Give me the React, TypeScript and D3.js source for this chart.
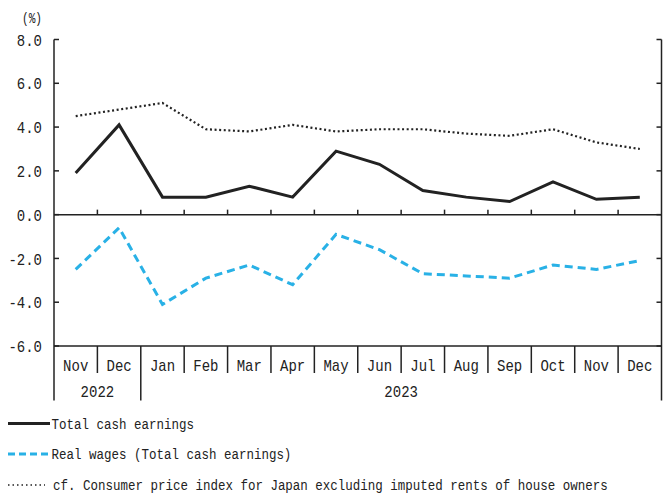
import React from "react";
import * as d3 from "d3";

const months = ["Nov", "Dec", "Jan", "Feb", "Mar", "Apr", "May", "Jun", "Jul", "Aug", "Sep", "Oct", "Nov", "Dec"];
const years = [
  { label: "2022", from: 0, to: 1 },
  { label: "2023", from: 2, to: 13 },
];
const totalCash = [1.9, 4.1, 0.8, 0.8, 1.3, 0.8, 2.9, 2.3, 1.1, 0.8, 0.6, 1.5, 0.7, 0.8];
const realWages = [-2.5, -0.6, -4.1, -2.9, -2.3, -3.2, -0.9, -1.6, -2.7, -2.8, -2.9, -2.3, -2.5, -2.1];
const cpi = [4.5, 4.8, 5.1, 3.9, 3.8, 4.1, 3.8, 3.9, 3.9, 3.7, 3.6, 3.9, 3.3, 3.0];
const yTicks = [8, 6, 4, 2, 0, -2, -4, -6];
const legendLabels = [
  "Total cash earnings",
  "Real wages (Total cash earnings)",
  "cf. Consumer price index for Japan excluding imputed rents of house owners",
];

const W = 664;
const H = 495;
const FONT = "'Liberation Mono', 'DejaVu Sans Mono', monospace";
const AX = "#222";

export default function App() {
  const left = 54;
  const right = 661.5;
  const x = d3.scaleBand<number>().domain(d3.range(months.length)).range([left, right]).padding(0);
  const y = d3.scaleLinear().domain([-6, 8]).range([346, 39.5]);
  const cx = (i: number) => (x(i) as number) + x.bandwidth() / 2;
  const line = d3
    .line<number>()
    .x((_, i) => cx(i))
    .y((d) => y(d));
  const y0 = y(0);
  const yBot = y(-6);
  const yTop = y(8);
  const boundaries = d3.range(1, months.length).map((i) => x(i) as number);
  const legendY = [423.5, 454, 485];

  return (
    <svg
      width={W}
      height={H}
      style={{ position: "absolute", left: 0, top: 0, background: "#fff", display: "block" }}
      fontFamily={FONT}
    >
      <rect x={0} y={0} width={W} height={H} fill="#fff" />
      {/* unit label */}
      <text x={42} y={18} dy="0.36em" fontSize={15} textAnchor="end" textLength={20} lengthAdjust="spacingAndGlyphs" fill="#222">
        (%)
      </text>
      {/* y tick labels */}
      {yTicks.map((t) => {
        const s = t.toFixed(1);
        return (
          <text
            key={t}
            x={42}
            y={y(t)}
            dy="0.36em"
            fontSize={17}
            textAnchor="end"
            textLength={s.length * 8.4}
            lengthAdjust="spacingAndGlyphs"
            fill="#222"
          >
            {s}
          </text>
        );
      })}
      {/* left axis */}
      <line x1={left} x2={left} y1={yTop} y2={400.5} stroke={AX} strokeWidth={1.5} />
      {/* right axis */}
      <line x1={right} x2={right} y1={yTop} y2={400.5} stroke={AX} strokeWidth={1.5} />
      {/* ticks */}
      {yTicks.map((t) => (
        <g key={"t" + t}>
          <line x1={left} x2={left + 5} y1={y(t)} y2={y(t)} stroke={AX} strokeWidth={1.5} />
          <line x1={right - 5} x2={right} y1={y(t)} y2={y(t)} stroke={AX} strokeWidth={1.5} />
        </g>
      ))}
      {/* zero line */}
      <line x1={left} x2={right} y1={y0} y2={y0} stroke={AX} strokeWidth={1.5} />
      {boundaries.map((b, i) => (
        <line key={"zb" + i} x1={b} x2={b} y1={y0} y2={y0 - 5} stroke={AX} strokeWidth={1.5} />
      ))}
      {/* bottom line */}
      <line x1={left} x2={right} y1={yBot} y2={yBot} stroke={AX} strokeWidth={1.5} />
      {boundaries.map((b, i) => (
        <line
          key={"bb" + i}
          x1={b}
          x2={b}
          y1={yBot}
          y2={i === 1 ? 400.5 : 373}
          stroke={AX}
          strokeWidth={1.5}
        />
      ))}
      {/* month labels */}
      {months.map((m, i) => (
        <text
          key={"m" + i}
          x={cx(i)}
          y={365}
          dy="0.36em"
          fontSize={17}
          textAnchor="middle"
          textLength={m.length * 8.4}
          lengthAdjust="spacingAndGlyphs"
          fill="#222"
        >
          {m}
        </text>
      ))}
      {years.map((yr) => (
        <text
          key={yr.label}
          x={((x(yr.from) as number) + (x(yr.to) as number) + x.bandwidth()) / 2}
          y={391}
          dy="0.36em"
          fontSize={17}
          textAnchor="middle"
          textLength={yr.label.length * 8.4}
          lengthAdjust="spacingAndGlyphs"
          fill="#222"
        >
          {yr.label}
        </text>
      ))}
      {/* series */}
      <path d={line(cpi) || ""} fill="none" stroke="#222" strokeWidth={2.2} strokeDasharray="2 2.6" />
      <path d={line(totalCash) || ""} fill="none" stroke="#222" strokeWidth={3} strokeLinejoin="miter" />
      <path d={line(realWages) || ""} fill="none" stroke="#29B1E6" strokeWidth={3} strokeDasharray="8 5" />
      {/* legend */}
      <g>
        <line x1={8} x2={50} y1={legendY[0]} y2={legendY[0]} stroke="#222" strokeWidth={3} />
        <line x1={8} x2={50} y1={legendY[1]} y2={legendY[1]} stroke="#29B1E6" strokeWidth={3} strokeDasharray="7 4" />
        <line x1={8} x2={45} y1={legendY[2]} y2={legendY[2]} stroke="#222" strokeWidth={1.5} strokeDasharray="1.5 3" />
        {legendLabels.map((l, i) => {
          const start = i === 2 ? 53 : 51.5;
          return (
            <text
              key={"l" + i}
              transform={`translate(${start},${legendY[i]}) scale(1,1.2)`}
              x={0}
              y={0}
              dy="0.36em"
              fontSize={12.5}
              fill="#222"
            >
              {l}
            </text>
          );
        })}
      </g>
    </svg>
  );
}
